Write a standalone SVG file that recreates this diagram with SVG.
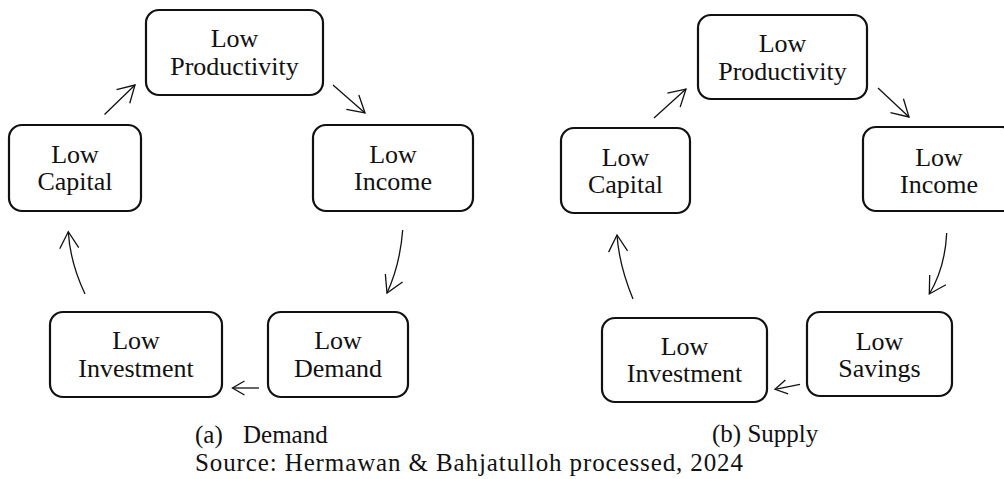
<svg xmlns="http://www.w3.org/2000/svg" width="1004" height="479" viewBox="0 0 1004 479">
<style>
.box{fill:#fff;stroke:#111;stroke-width:2.2}
.t{font-family:"Liberation Serif","Times New Roman",serif;font-size:26px;fill:#111;text-anchor:middle}
.cap{font-family:"Liberation Serif","Times New Roman",serif;font-size:25px;fill:#111}
.c{fill:none;stroke:#111;stroke-width:1.3}
.big{marker-end:url(#ah)}
.small{marker-end:url(#ahs)}
</style>
<defs>
<marker id="ah" markerUnits="userSpaceOnUse" markerWidth="40" markerHeight="40" viewBox="0 0 40 40" refX="20" refY="20" orient="auto" overflow="visible">
<path d="M3.5,10.5 L20,20 L3.5,29.5" fill="none" stroke="#111" stroke-width="1.3"/>
</marker>
<marker id="ahs" markerUnits="userSpaceOnUse" markerWidth="40" markerHeight="40" viewBox="0 0 40 40" refX="20" refY="20" orient="auto" overflow="visible">
<path d="M8,13 L20,20 L8,27" fill="none" stroke="#111" stroke-width="1.3"/>
</marker>
</defs>
<rect width="1004" height="479" fill="#fff"/>

<g id="a-productivity"><rect class="box" x="146" y="10" width="177" height="85" rx="13"/><text class="t" x="234.5" y="47">Low</text><text class="t" x="234.5" y="75">Productivity</text></g>
<g id="a-capital"><rect class="box" x="9" y="125" width="132" height="86" rx="13"/><text class="t" x="75" y="163">Low</text><text class="t" x="75" y="190">Capital</text></g>
<g id="a-income"><rect class="box" x="313" y="125" width="160" height="86" rx="13"/><text class="t" x="393" y="163">Low</text><text class="t" x="393" y="190">Income</text></g>
<g id="a-demand"><rect class="box" x="268" y="312" width="140" height="85" rx="13"/><text class="t" x="338" y="349">Low</text><text class="t" x="338" y="377">Demand</text></g>
<g id="a-investment"><rect class="box" x="50" y="312" width="172" height="85" rx="13"/><text class="t" x="136" y="349">Low</text><text class="t" x="136" y="377">Investment</text></g>

<g id="b-productivity"><rect class="box" x="698" y="15" width="169" height="84" rx="13"/><text class="t" x="782.5" y="52">Low</text><text class="t" x="782.5" y="80">Productivity</text></g>
<g id="b-capital"><rect class="box" x="561" y="128" width="129" height="85" rx="13"/><text class="t" x="625.5" y="166">Low</text><text class="t" x="625.5" y="193">Capital</text></g>
<g id="b-income"><rect class="box" x="863" y="127" width="152" height="84" rx="13"/><text class="t" x="939" y="166">Low</text><text class="t" x="939" y="193">Income</text></g>
<g id="b-savings"><rect class="box" x="807" y="312" width="145" height="84" rx="13"/><text class="t" x="879.5" y="350">Low</text><text class="t" x="879.5" y="377">Savings</text></g>
<g id="b-investment"><rect class="box" x="602" y="318" width="165" height="84" rx="13"/><text class="t" x="684.5" y="355">Low</text><text class="t" x="684.5" y="382">Investment</text></g>

<g id="connectors">
<path class="c big" d="M104.5,114.5 L135,85"/>
<path class="c big" d="M333,85 L365,113"/>
<path class="c big" d="M402.7,230 Q400,265 387,293"/>
<path class="c small" d="M259,388 L232.5,388"/>
<path class="c big" d="M85,294 Q70,262 68.3,231.7"/>

<path class="c big" d="M654,118 L686,89"/>
<path class="c big" d="M878,88 L909,117"/>
<path class="c big" d="M946.7,233 Q945,268 929.3,294"/>
<path class="c small" d="M800,384.3 L775,389.3"/>
<path class="c big" d="M633,299 Q619,265 617,235"/>
</g>

<g id="captions">
<text class="cap" x="195" y="443">(a)<tspan x="243">Demand</tspan></text>
<text class="cap" x="712" y="442">(b) Supply</text>
<text class="cap" x="195" y="471" textLength="548" lengthAdjust="spacing">Source: Hermawan &amp; Bahjatulloh processed, 2024</text>
</g>
</svg>
